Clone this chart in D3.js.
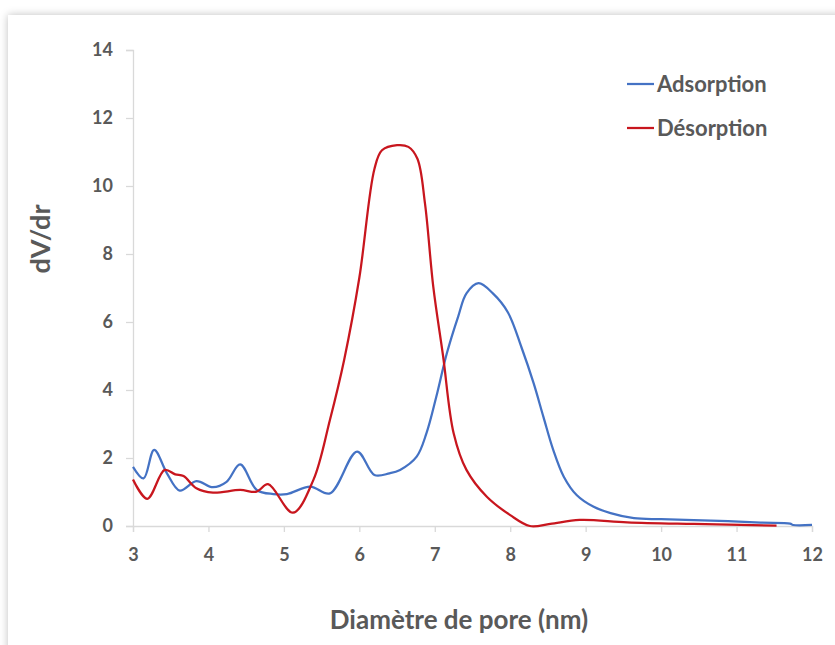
<!DOCTYPE html>
<html>
<head>
<meta charset="utf-8">
<script src="https://cdn.jsdelivr.net/npm/d3@7"></script>
<style>
  body { margin: 0; background: #fff; overflow: hidden; }
  .card {
    position: absolute; left: 8px; top: 15px; width: 900px; height: 700px;
    background: #fff; box-shadow: 0 0 8px rgba(0,0,0,0.25);
  }
  svg { position: absolute; left: 0; top: 0; }
  text { font-family: Lato, "Open Sans", sans-serif; font-weight: bold; fill: #595959; }
</style>
</head>
<body>
<div class="card"></div>
<svg id="chart" width="835" height="645"></svg>
<script>
// Adsorption curve (pore diameter nm, dV/dr)
const adsX = [3.0, 3.14, 3.28, 3.45, 3.62, 3.84, 4.06, 4.24, 4.42, 4.64, 4.86, 5.04, 5.35, 5.61, 5.97, 6.2, 6.4, 6.54, 6.76, 6.89, 7.02, 7.16, 7.31, 7.42, 7.58, 7.77, 7.97, 8.15, 8.31, 8.44, 8.57, 8.71, 8.88, 9.1, 9.33, 9.64, 10.0, 10.66, 11.32, 11.71, 11.75, 12.0];
const adsY = [1.74, 1.40, 2.24, 1.55, 1.04, 1.32, 1.14, 1.30, 1.81, 1.06, 0.94, 0.94, 1.16, 0.96, 2.19, 1.5, 1.55, 1.65, 2.04, 2.73, 3.8, 5.08, 6.16, 6.84, 7.14, 6.84, 6.28, 5.25, 4.2, 3.21, 2.24, 1.45, 0.91, 0.57, 0.38, 0.23, 0.2, 0.16, 0.10, 0.07, 0.03, 0.03];

// Desorption curve
const desX = [3.0, 3.19, 3.42, 3.56, 3.67, 3.84, 4.06, 4.42, 4.64, 4.79, 5.12, 5.39, 5.61, 5.8, 6.0, 6.2, 6.3, 6.5, 6.65, 6.77, 6.87, 6.98, 7.11, 7.25, 7.42, 7.69, 8.0, 8.26, 8.53, 8.92, 9.55, 10.43, 11.53];
const desY = [1.37, 0.80, 1.65, 1.52, 1.47, 1.11, 0.98, 1.06, 1.01, 1.23, 0.39, 1.35, 3.12, 4.9, 7.3, 10.5, 11.05, 11.2, 11.15, 10.8, 9.49, 7.04, 5.0, 2.73, 1.65, 0.86, 0.32, 0.0, 0.06, 0.18, 0.11, 0.06, 0.01];

const xTicks = [3, 4, 5, 6, 7, 8, 9, 10, 11, 12];
const yTicks = [0, 2, 4, 6, 8, 10, 12, 14];

const seriesNames = ["Adsorption", "Désorption"];
const seriesColors = ["#4472C4", "#C8161E"];

const svg = d3.select("#chart");
const plotLeft = 133, plotRight = 812, plotTop = 50, plotBottom = 526;

const x = d3.scaleLinear().domain([3, 12]).range([plotLeft, plotRight]);
const y = d3.scaleLinear().domain([0, 14]).range([plotBottom, plotTop]);

// axes
const xAxis = svg.append("g")
    .attr("transform", "translate(0," + plotBottom + ")")
    .call(d3.axisBottom(x).tickValues(xTicks).tickSize(6).tickPadding(16).tickFormat(d3.format("d")));
const yAxis = svg.append("g")
    .attr("transform", "translate(" + plotLeft + ",0)")
    .call(d3.axisLeft(y).tickValues(yTicks).tickSize(7).tickPadding(13).tickFormat(d3.format("d")));

[xAxis, yAxis].forEach(function (a) {
    a.select(".domain").attr("stroke", "#d9d9d9").attr("stroke-width", 1.3);
    a.selectAll(".tick line").attr("stroke", "#d9d9d9").attr("stroke-width", 1.3);
    a.selectAll(".tick text")
        .style("font-family", "Lato, 'Open Sans', sans-serif")
        .style("font-weight", "bold")
        .style("font-size", "18px")
        .attr("fill", "#595959");
});

// lines
const line = d3.line()
    .x(function (d) { return x(d[0]); })
    .y(function (d) { return y(d[1]); })
    .curve(d3.curveCatmullRom.alpha(0.5));

const series = [
    adsX.map(function (v, i) { return [v, adsY[i]]; }),
    desX.map(function (v, i) { return [v, desY[i]]; })
];

svg.selectAll("path.series")
    .data(series)
    .enter()
    .append("path")
    .attr("class", "series")
    .attr("d", line)
    .attr("fill", "none")
    .attr("stroke", function (d, i) { return seriesColors[i]; })
    .attr("stroke-width", 2.25);

// legend
const legend = svg.selectAll("g.legend")
    .data(seriesNames)
    .enter()
    .append("g")
    .attr("class", "legend")
    .attr("transform", function (d, i) { return "translate(627," + (84 + i * 44) + ")"; });
legend.append("line")
    .attr("x1", 0).attr("x2", 27)
    .attr("stroke", function (d, i) { return seriesColors[i]; })
    .attr("stroke-width", 2.25);
legend.append("text")
    .attr("x", 30)
    .attr("dy", "0.35em")
    .style("font-size", "22px")
    .text(function (d) { return d; });

// axis titles
svg.append("text")
    .attr("x", 459)
    .attr("y", 629)
    .attr("text-anchor", "middle")
    .style("font-size", "26px")
    .text("Diamètre de pore (nm)");

svg.append("text")
    .attr("transform", "translate(50,239) rotate(-90)")
    .attr("text-anchor", "middle")
    .style("font-size", "27px")
    .text("dV/dr");
</script>
</body>
</html>
